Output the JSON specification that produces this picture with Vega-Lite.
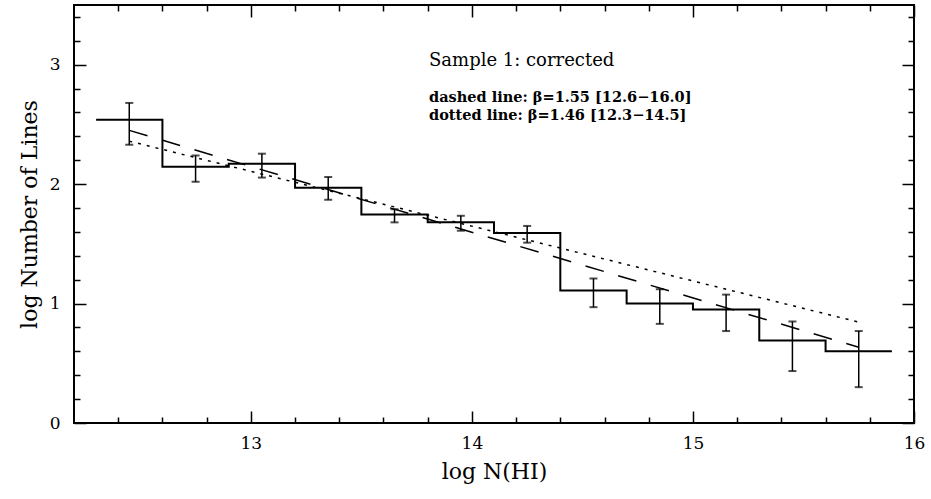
{
  "$schema": "https://vega.github.io/schema/vega-lite/v6.json",
  "width": 840,
  "height": 418,
  "autosize": "none",
  "padding": {"left": 74, "top": 5, "right": 17, "bottom": 76},
  "background": "white",
  "config": {
    "view": {"stroke": "black", "strokeWidth": 2},
    "axis": {"domain": false, "grid": false, "tickColor": "black", "tickWidth": 1.5, "labelColor": "black", "titleColor": "black", "labelFont": "DejaVu Serif", "titleFont": "DejaVu Serif", "titleFontWeight": "normal", "labelFontSize": 17, "titleFontSize": 22, "labelFlush": false}
  },
  "datasets": {
    "hist": [
      {"x": 12.3, "y": 2.54}, {"x": 12.6, "y": 2.145}, {"x": 12.9, "y": 2.17}, {"x": 13.2, "y": 1.97},
      {"x": 13.5, "y": 1.745}, {"x": 13.8, "y": 1.68}, {"x": 14.1, "y": 1.59}, {"x": 14.4, "y": 1.11},
      {"x": 14.7, "y": 1.0}, {"x": 15.0, "y": 0.95}, {"x": 15.3, "y": 0.69}, {"x": 15.6, "y": 0.6},
      {"x": 15.9, "y": 0.6}
    ],
    "err": [
      {"x": 12.45, "lo": 2.33, "hi": 2.68}, {"x": 12.75, "lo": 2.02, "hi": 2.24},
      {"x": 13.05, "lo": 2.055, "hi": 2.255}, {"x": 13.35, "lo": 1.87, "hi": 2.06},
      {"x": 13.65, "lo": 1.68, "hi": 1.79}, {"x": 13.95, "lo": 1.61, "hi": 1.735},
      {"x": 14.25, "lo": 1.51, "hi": 1.65}, {"x": 14.55, "lo": 0.97, "hi": 1.21},
      {"x": 14.85, "lo": 0.83, "hi": 1.12}, {"x": 15.15, "lo": 0.77, "hi": 1.075},
      {"x": 15.45, "lo": 0.435, "hi": 0.85}, {"x": 15.75, "lo": 0.3, "hi": 0.77}
    ],
    "dashed": [{"x": 12.45, "y": 2.45}, {"x": 15.75, "y": 0.635}],
    "dotted": [{"x": 12.45, "y": 2.36}, {"x": 15.75, "y": 0.845}],
    "notes": [
      {"x": 13.806, "y": 2.99, "t": "Sample 1: corrected", "k": "title"},
      {"x": 13.806, "y": 2.69, "t": "dashed line: β=1.55 [12.6−16.0]", "k": "sub"},
      {"x": 13.806, "y": 2.54, "t": "dotted line: β=1.46 [12.3−14.5]", "k": "sub"}
    ]
  },
  "resolve": {"axis": {"x": "independent", "y": "independent"}},
  "layer": [
    {
      "data": {"name": "hist"},
      "mark": {"type": "line", "interpolate": "step-after", "color": "black", "strokeWidth": 2},
      "encoding": {
        "x": {"field": "x", "type": "quantitative", "scale": {"domain": [12.2, 16], "nice": false, "zero": false},
              "axis": {"orient": "bottom", "values": [13, 14, 15, 16], "tickSize": -12, "labelPadding": 24, "title": "log N(HI)", "titlePadding": 10}},
        "y": {"field": "y", "type": "quantitative", "scale": {"domain": [0, 3.5], "nice": false, "zero": false},
              "axis": {"orient": "left", "values": [0, 1, 2, 3], "tickSize": -12, "labelPadding": 26, "title": "log Number of Lines", "titlePadding": 8}}
      }
    },
    {
      "data": {"name": "hist"},
      "mark": {"type": "line", "opacity": 0},
      "encoding": {
        "x": {"field": "x", "type": "quantitative",
              "axis": {"orient": "bottom", "values": [12.4, 12.6, 12.8, 13.2, 13.4, 13.6, 13.8, 14.2, 14.4, 14.6, 14.8, 15.2, 15.4, 15.6, 15.8], "tickSize": -6, "labels": false, "title": null}},
        "y": {"field": "y", "type": "quantitative",
              "axis": {"orient": "left", "values": [0.2, 0.4, 0.6, 0.8, 1.2, 1.4, 1.6, 1.8, 2.2, 2.4, 2.6, 2.8, 3.2, 3.4], "tickSize": -6, "labels": false, "title": null}}
      }
    },
    {
      "data": {"name": "hist"},
      "mark": {"type": "line", "opacity": 0},
      "encoding": {
        "x": {"field": "x", "type": "quantitative",
              "axis": {"orient": "top", "values": [13, 14, 15, 16], "tickSize": -12, "labels": false, "title": null}},
        "y": {"field": "y", "type": "quantitative",
              "axis": {"orient": "right", "values": [0, 1, 2, 3], "tickSize": -12, "labels": false, "title": null}}
      }
    },
    {
      "data": {"name": "hist"},
      "mark": {"type": "line", "opacity": 0},
      "encoding": {
        "x": {"field": "x", "type": "quantitative",
              "axis": {"orient": "top", "values": [12.4, 12.6, 12.8, 13.2, 13.4, 13.6, 13.8, 14.2, 14.4, 14.6, 14.8, 15.2, 15.4, 15.6, 15.8], "tickSize": -6, "labels": false, "title": null}},
        "y": {"field": "y", "type": "quantitative",
              "axis": {"orient": "right", "values": [0.2, 0.4, 0.6, 0.8, 1.2, 1.4, 1.6, 1.8, 2.2, 2.4, 2.6, 2.8, 3.2, 3.4], "tickSize": -6, "labels": false, "title": null}}
      }
    },
    {
      "data": {"name": "err"},
      "mark": {"type": "rule", "color": "black", "strokeWidth": 1.5},
      "encoding": {
        "x": {"field": "x", "type": "quantitative", "axis": null},
        "y": {"field": "lo", "type": "quantitative", "axis": null},
        "y2": {"field": "hi"}
      }
    },
    {
      "data": {"name": "err"},
      "mark": {"type": "tick", "color": "black", "orient": "horizontal", "size": 8, "thickness": 2},
      "encoding": {
        "x": {"field": "x", "type": "quantitative", "axis": null},
        "y": {"field": "lo", "type": "quantitative", "axis": null}
      }
    },
    {
      "data": {"name": "err"},
      "mark": {"type": "tick", "color": "black", "orient": "horizontal", "size": 8, "thickness": 2},
      "encoding": {
        "x": {"field": "x", "type": "quantitative", "axis": null},
        "y": {"field": "hi", "type": "quantitative", "axis": null}
      }
    },
    {
      "data": {"name": "dashed"},
      "mark": {"type": "line", "color": "black", "strokeWidth": 1.5, "strokeDash": [19, 15]},
      "encoding": {
        "x": {"field": "x", "type": "quantitative", "axis": null},
        "y": {"field": "y", "type": "quantitative", "axis": null}
      }
    },
    {
      "data": {"name": "dotted"},
      "mark": {"type": "line", "color": "black", "strokeWidth": 1.5, "strokeDash": [3, 6]},
      "encoding": {
        "x": {"field": "x", "type": "quantitative", "axis": null},
        "y": {"field": "y", "type": "quantitative", "axis": null}
      }
    },
    {
      "data": {"name": "notes"},
      "transform": [{"filter": "datum.k === 'title'"}],
      "mark": {"type": "text", "align": "left", "baseline": "alphabetic", "font": "DejaVu Serif", "fontSize": 18, "color": "black"},
      "encoding": {
        "x": {"field": "x", "type": "quantitative", "axis": null},
        "y": {"field": "y", "type": "quantitative", "axis": null},
        "text": {"field": "t"}
      }
    },
    {
      "data": {"name": "notes"},
      "transform": [{"filter": "datum.k === 'sub'"}],
      "mark": {"type": "text", "align": "left", "baseline": "alphabetic", "font": "DejaVu Serif", "fontSize": 14.5, "fontWeight": "bold", "color": "black"},
      "encoding": {
        "x": {"field": "x", "type": "quantitative", "axis": null},
        "y": {"field": "y", "type": "quantitative", "axis": null},
        "text": {"field": "t"}
      }
    }
  ]
}
